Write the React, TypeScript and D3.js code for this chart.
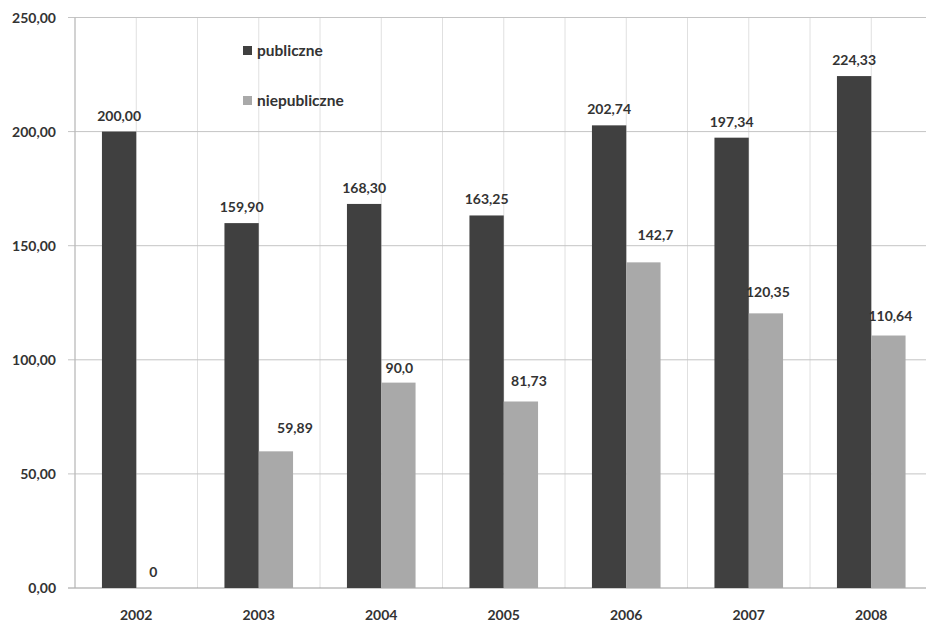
import React from "react";
import * as d3 from "d3";

const years = ["2002", "2003", "2004", "2005", "2006", "2007", "2008"];
const publiczne = [200.0, 159.9, 168.3, 163.25, 202.74, 197.34, 224.33];
const niepubliczne = [0, 59.89, 90.0, 81.73, 142.7, 120.35, 110.64];
const publiczneLabels = ["200,00", "159,90", "168,30", "163,25", "202,74", "197,34", "224,33"];
const niepubliczneLabels = ["0", "59,89", "90,0", "81,73", "142,7", "120,35", "110,64"];
const yTicks = [0, 50, 100, 150, 200, 250];
const seriesNames = ["publiczne", "niepubliczne"];

// label nudges (px) for the light series, as in the reference
const lightNudge: [number, number][] = [[0, 0], [19, -5], [1, 3], [8, -2], [12, -9], [2, -3], [2, -2]];

const W = 929;
const H = 624;
const COLORS = ["#404040", "#a9a9a9"];
const TEXT = "#333333";
const FONT = "Lato, 'Open Sans', sans-serif";

export default function App() {
  const left = 75;
  const right = 932.5;
  const top = 17.5;
  const bottom = 588;

  const x = d3.scaleBand<string>().domain(years).range([left, right]).paddingInner(0.44).paddingOuter(0.22);
  const xInner = d3.scaleBand<string>().domain(seriesNames).range([0, x.bandwidth()]);
  const y = d3.scaleLinear().domain([0, 250]).range([bottom, top]);
  const step = x.step();
  const halfLines = d3.range(0, 15).map((k) => left + (k * step) / 2);

  const fmt = (v: number) => d3.format(".2f")(v).replace(".", ",");

  return (
    <div style={{ position: "fixed", left: 0, top: 0 }}>
      <svg width={W} height={H} style={{ display: "block", background: "#fff" }} fontFamily={FONT}>
        <rect width={W} height={H} fill="#fff" />
        {/* vertical faint gridlines */}
        {halfLines.map((xx, i) => (
          <line key={"v" + i} x1={xx} x2={xx} y1={top} y2={bottom} stroke="#e0e0e0" strokeWidth={1} />
        ))}
        {/* horizontal gridlines */}
        {yTicks.map((t) => (
          <g key={"h" + t}>
            <line x1={68} x2={926} y1={y(t)} y2={y(t)} stroke={t === 0 ? "#9a9a9a" : "#c4c4c4"} strokeWidth={1} />
            <text x={56} y={y(t) + 5} textAnchor="end" fontSize={14} fontWeight="bold" fill={TEXT}>
              {fmt(t)}
            </text>
          </g>
        ))}
        {/* y axis */}
        <line x1={left} x2={left} y1={top} y2={bottom} stroke="#b5b5b5" strokeWidth={1} />
        {/* bars */}
        {years.map((yr, i) => {
          const x0 = x(yr)!;
          const xa = x0 + xInner("publiczne")!;
          const xb = x0 + xInner("niepubliczne")!;
          const bw = xInner.bandwidth();
          return (
            <g key={yr}>
              <rect x={xa} y={y(publiczne[i])} width={bw} height={bottom - y(publiczne[i])} fill={COLORS[0]} />
              <rect x={xb} y={y(niepubliczne[i])} width={bw} height={bottom - y(niepubliczne[i])} fill={COLORS[1]} />
              <text x={xa + bw / 2} y={y(publiczne[i]) - 11} textAnchor="middle" fontSize={14} fontWeight="bold" fill={TEXT}>
                {publiczneLabels[i]}
              </text>
              <text
                x={xb + bw / 2 + lightNudge[i][0]}
                y={y(niepubliczne[i]) - (i === 0 ? 11 : 13) + lightNudge[i][1]}
                textAnchor="middle"
                fontSize={14}
                fontWeight="bold"
                fill={TEXT}
              >
                {niepubliczneLabels[i]}
              </text>
              <text x={x0 + x.bandwidth() / 2} y={620} textAnchor="middle" fontSize={14} fontWeight="bold" fill={TEXT}>
                {yr}
              </text>
            </g>
          );
        })}
        {/* legend */}
        {seriesNames.map((s, i) => (
          <g key={s} transform={`translate(243, ${51 + i * 50})`}>
            <rect x={0} y={-5} width={9} height={9} fill={COLORS[i]} />
            <text x={14} y={5} fontSize={15.5} fontWeight="bold" fill={TEXT}>
              {s}
            </text>
          </g>
        ))}
      </svg>
    </div>
  );
}
